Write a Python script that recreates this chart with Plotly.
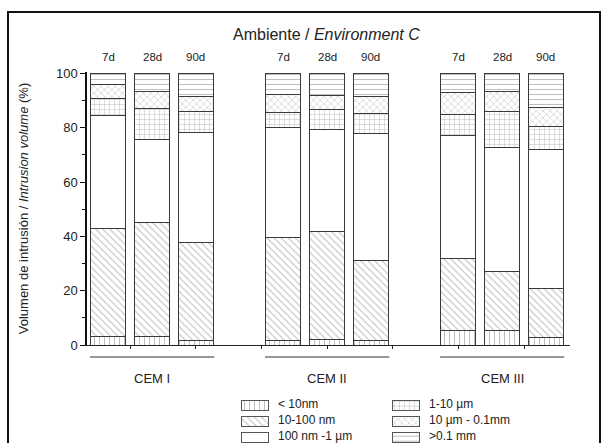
import plotly.graph_objects as go

# ---- data ----
bar_labels = ["7d", "28d", "90d", "7d", "28d", "90d", "7d", "28d", "90d"]
bar_pos = [0, 1, 2, 4, 5, 6, 8, 9, 10]
groups = ["CEM I", "CEM II", "CEM III"]
group_centers = [1, 5, 9]

lt10nm = [3.3, 3.3, 1.5, 1.5, 2.1, 1.7, 5.5, 5.3, 2.8]
nm10_100 = [39.5, 41.8, 36.3, 37.9, 39.7, 29.3, 26.3, 21.6, 18.1]
nm100_1um = [41.7, 30.5, 40.3, 40.6, 37.5, 46.9, 45.3, 45.7, 51.1]
um1_10 = [6.3, 11.4, 7.8, 5.7, 7.4, 7.3, 7.8, 13.3, 8.6]
um10_01mm = [5.1, 6.2, 5.5, 6.6, 5.2, 6.2, 8.2, 7.6, 6.7]
gt01mm = [4.1, 6.8, 8.6, 7.7, 8.1, 8.6, 6.9, 6.5, 12.7]

series_names = ["< 10nm", "10-100 nm", "100 nm -1 µm", "1-10 µm", "10 µm - 0.1mm", ">0.1 mm"]
series_values = [lt10nm, nm10_100, nm100_1um, um1_10, um10_01mm, gt01mm]
series_patterns = ["|", "\\", "", "+", "x", "-"]

W, H = 601, 443
ML, MR, MT, MB = 87, 31, 72, 0
PW, PH = W - ML - MR, H - MT - MB
Y_AXIS_BOTTOM_PX = 345

def px_x(px):
    return (px - ML) / PW

def px_y(py):
    return (H - MB - py) / PH

FONT = "Liberation Sans, Arial, sans-serif"

# legend layout (pixel positions)
leg_cols_swatch = [241, 392]
leg_cols_text = [276, 427]
leg_rows = [404, 420, 436]

def make_pattern(shape):
    return dict(shape=shape, fgcolor="#6e6e6e", bgcolor="white", size=5, solidity=0.18) if shape else None

fig = go.Figure()
for name, vals, shape in zip(series_names, series_values, series_patterns):
    fig.add_trace(go.Bar(
        x=bar_pos, y=vals, name=name, width=0.8, showlegend=False,
        marker=dict(color="white", line=dict(color="#3a3a3a", width=1), pattern=make_pattern(shape)),
        xaxis="x", yaxis="y",
    ))

# manual legend swatches (horizontal bars on a pixel-scaled helper axis)
for i, (name, shape) in enumerate(zip(series_names, series_patterns)):
    col, row = divmod(i, 3)
    fig.add_trace(go.Bar(
        orientation="h", x=[27], base=[leg_cols_swatch[col]], y=[leg_rows[row] + 1], width=10,
        name=name, showlegend=False, hoverinfo="skip",
        marker=dict(color="white", line=dict(color="#555", width=1), pattern=make_pattern(shape)),
        xaxis="x2", yaxis="y2",
    ))
    fig.add_annotation(text=name, x=px_x(leg_cols_text[col]), y=px_y(leg_rows[row]),
                       xref="paper", yref="paper", xanchor="left", yanchor="middle",
                       showarrow=False, font=dict(size=12))

fig.update_layout(
    width=W, height=H,
    margin=dict(l=ML, r=MR, t=MT, b=MB, autoexpand=False),
    barmode="stack",
    paper_bgcolor="white", plot_bgcolor="rgba(0,0,0,0)",
    font=dict(family=FONT, size=13, color="#222"),
    showlegend=False,
    xaxis=dict(
        domain=[0, 1], anchor="y",
        range=[-0.49, 10.55], showgrid=False, zeroline=False,
        showline=True, linecolor="#222", linewidth=1.2,
        tickmode="array", tickvals=[0.5, 2, 3.5, 5, 6.5, 8, 9.5], showticklabels=False,
        ticks="outside", ticklen=3, tickcolor="#222",
    ),
    yaxis=dict(
        domain=[px_y(Y_AXIS_BOTTOM_PX), 1], anchor="x",
        range=[0, 100.5], showgrid=False, zeroline=False,
        showline=True, linecolor="#111", linewidth=1.5,
        tickmode="array", tickvals=[0, 20, 40, 60, 80, 100],
        ticks="outside", ticklen=5, tickcolor="#111", tickfont=dict(size=13),
        minor=dict(tickvals=[10, 30, 50, 70, 90], ticks="outside", ticklen=3, tickcolor="#111"),
        title=dict(text="Volumen de intrusión / <i>Intrusion volume</i> (%)", font=dict(size=13), standoff=24),
    ),
    xaxis2=dict(domain=[0, 1], range=[ML, W - MR], visible=False, anchor="y2", fixedrange=True),
    yaxis2=dict(domain=[0, px_y(Y_AXIS_BOTTOM_PX) - 0.01], range=[H, Y_AXIS_BOTTOM_PX + PH * 0.01],
                visible=False, anchor="x2", fixedrange=True),
)

# title
fig.add_annotation(text="Ambiente / <i>Environment C</i>", xref="paper", yref="paper",
                   x=px_x(326), y=px_y(34), xanchor="center", yanchor="middle",
                   showarrow=False, font=dict(size=16))
# day labels
for p, lab in zip(bar_pos, bar_labels):
    fig.add_annotation(text=lab, x=p, xref="x", yref="paper", y=px_y(57),
                       xanchor="center", yanchor="middle", showarrow=False, font=dict(size=11.5))
# group underlines and labels
for c, g in zip(group_centers, groups):
    fig.add_shape(type="line", xref="x", yref="paper", x0=c - 1.42, x1=c + 1.42,
                  y0=px_y(357), y1=px_y(357), line=dict(color="#333", width=1))
    fig.add_annotation(text=g, x=c, xref="x", yref="paper", y=px_y(378),
                       xanchor="center", yanchor="middle", showarrow=False, font=dict(size=13))

# outer frame
fig.add_shape(type="rect", xref="paper", yref="paper",
              x0=px_x(8), x1=px_x(600), y0=px_y(446), y1=px_y(12),
              line=dict(color="#111", width=2), fillcolor="rgba(0,0,0,0)")

fig.write_html("out.html", config={"displayModeBar": False},
               post_script="document.body.style.margin='0';")
